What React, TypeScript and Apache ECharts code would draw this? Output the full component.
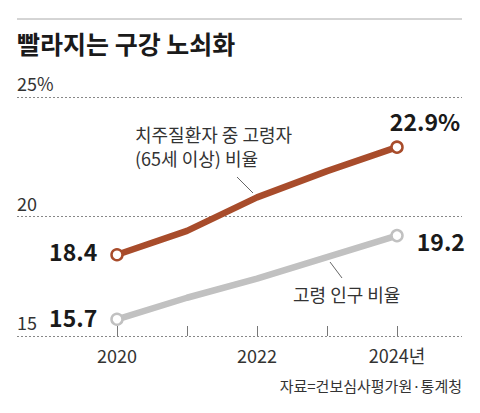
import React, { useEffect, useRef } from "react";
import * as echarts from "echarts";

const years = ["2020", "2021", "2022", "2023", "2024"];
const xLabels = ["2020", "", "2022", "", "2024년"];
const periodontalElderly = [18.4, 19.4, 20.8, 21.9, 22.9];
const elderlyPopulation = [15.7, 16.6, 17.4, 18.3, 19.2];
const yMin = 15;
const yMax = 25;
const yStep = 5;

const FONT = "'Noto Sans CJK KR', 'Noto Sans', sans-serif";
const BROWN = "#a84c2b";
const GRAY = "#c1c1c1";

export default function App() {
  const ref = useRef<HTMLDivElement>(null);
  useEffect(() => {
    document.body.style.margin = "0";
    if (!ref.current) return;
    const chart = echarts.init(ref.current, null, { renderer: "svg" });

    const valueLabel = (text: string, position: string, offset: number[]) => ({
      show: true,
      position,
      offset,
      formatter: text,
      fontFamily: FONT,
      fontSize: 23,
      fontWeight: "bold",
      color: "#1a1a1a",
    });

    const last = years.length - 1;
    const brownData = periodontalElderly.map((v, i) => {
      if (i === 0) return { value: v, label: valueLabel(String(v), "left", [-8, -4]) };
      if (i === last) return { value: v, label: valueLabel(v + "%", "top", [28, -3]) };
      return { value: v, symbol: "none" };
    });
    const grayData = elderlyPopulation.map((v, i) => {
      if (i === 0) return { value: v, label: valueLabel(String(v), "left", [-8, -2]) };
      if (i === last) return { value: v, label: valueLabel(String(v), "right", [8, 5]) };
      return { value: v, symbol: "none" };
    });

    const grid = { top: 97, bottom: 77 };

    chart.setOption({
      animation: false,
      textStyle: { fontFamily: FONT },
      grid: [
        { left: 17, right: 18, ...grid },
        { left: 117, right: 83, ...grid },
      ],
      xAxis: [
        { type: "value", gridIndex: 0, show: false, min: 0, max: 1 },
        {
          type: "category",
          gridIndex: 1,
          data: years,
          boundaryGap: false,
          axisLine: { show: false },
          axisTick: {
            show: true,
            inside: true,
            length: 10,
            interval: 0,
            lineStyle: { color: "#777", width: 1 },
          },
          axisLabel: {
            interval: 0,
            margin: 10,
            fontSize: 18,
            color: "#333",
            fontFamily: FONT,
            formatter: (_v: string, i: number) => xLabels[i],
          },
        },
      ],
      yAxis: [
        {
          type: "value",
          gridIndex: 0,
          min: yMin,
          max: yMax,
          interval: yStep,
          axisLine: { show: false },
          axisTick: { show: false },
          splitLine: { lineStyle: { color: "#888", type: [2, 2], width: 1 } },
          axisLabel: {
            inside: true,
            margin: 0,
            align: "left",
            verticalAlign: "bottom",
            padding: [0, 0, 5, 0],
            fontSize: 18,
            lineHeight: 18,
            color: "#333",
            fontFamily: FONT,
            formatter: (v: number) => (v === yMax ? v + "%" : String(v)),
          },
        },
        { type: "value", gridIndex: 1, min: yMin, max: yMax, show: false },
      ],
      series: [
        {
          type: "line",
          xAxisIndex: 1,
          yAxisIndex: 1,
          data: grayData,
          symbol: "circle",
          symbolSize: 11,
          lineStyle: { color: GRAY, width: 6.5 },
          itemStyle: { color: "#fff", borderColor: GRAY, borderWidth: 2.5 },
          z: 3,
        },
        {
          type: "line",
          xAxisIndex: 1,
          yAxisIndex: 1,
          data: brownData,
          symbol: "circle",
          symbolSize: 11,
          lineStyle: { color: BROWN, width: 6.5 },
          itemStyle: { color: "#fff", borderColor: BROWN, borderWidth: 2.5 },
          z: 4,
        },
      ],
      graphic: [
        {
          type: "line",
          shape: { x1: 17, y1: 19, x2: 462, y2: 19 },
          style: { stroke: "#aaa", lineWidth: 1 },
        },
        {
          type: "text",
          left: 17,
          top: 30,
          style: {
            text: "빨라지는 구강 노쇠화",
            font: `bold 25px ${FONT}`,
            fill: "#1a1a1a",
          },
        },
        {
          type: "text",
          left: 135,
          top: 125,
          style: { text: "치주질환자 중 고령자", font: `18px ${FONT}`, fill: "#333" },
        },
        {
          type: "text",
          left: 135,
          top: 149,
          style: { text: "(65세 이상) 비율", font: `18px ${FONT}`, fill: "#333" },
        },
        {
          type: "line",
          shape: { x1: 237, y1: 177, x2: 253, y2: 193 },
          style: { stroke: "#666", lineWidth: 1 },
        },
        {
          type: "text",
          left: 293,
          top: 285,
          style: { text: "고령 인구 비율", font: `18px ${FONT}`, fill: "#333" },
        },
        {
          type: "line",
          shape: { x1: 330, y1: 262, x2: 342, y2: 278 },
          style: { stroke: "#666", lineWidth: 1 },
        },
        {
          type: "text",
          right: 18,
          top: 378,
          style: {
            text: "자료=건보심사평가원·통계청",
            font: `15px ${FONT}`,
            fill: "#333",
          },
        },
      ],
    });
    return () => chart.dispose();
  }, []);
  return <div ref={ref} style={{ width: 480, height: 413 }} />;
}
